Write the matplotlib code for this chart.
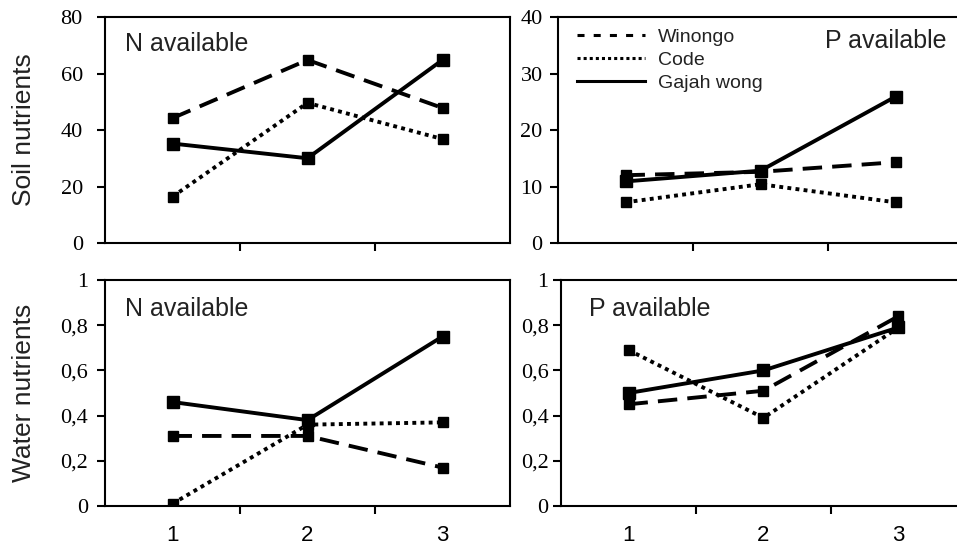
import matplotlib.pyplot as plt
from matplotlib.ticker import FuncFormatter

sites = ['Winongo', 'Code', 'Gajah wong']
x = [1, 2, 3]

soil_n = {'Winongo': [44.2, 64.8, 47.8], 'Code': [16.4, 49.6, 36.8], 'Gajah wong': [35.2, 30.0, 64.8]}
soil_p = {'Winongo': [12.0, 12.6, 14.3], 'Code': [7.2, 10.4, 7.2], 'Gajah wong': [10.9, 12.8, 25.9]}
water_n = {'Winongo': [0.31, 0.31, 0.17], 'Code': [0.01, 0.36, 0.37], 'Gajah wong': [0.46, 0.38, 0.75]}
water_p = {'Winongo': [0.45, 0.51, 0.84], 'Code': [0.69, 0.39, 0.79], 'Gajah wong': [0.50, 0.60, 0.79]}

styles = {
    'Winongo': dict(dashes=(5, 2.6), ms=7.5),
    'Code': dict(dashes=(1, 1.1), ms=7.5),
    'Gajah wong': dict(dashes=None, ms=9),
}

serif = 'Liberation Serif'
sans = 'Liberation Sans'
txt = '#222222'

fig = plt.figure(figsize=(9.57, 5.49), dpi=100)
W, H = 957, 549

def make_ax(left, top):
    return fig.add_axes([left / W, 1 - (top + 226) / H, 405 / W, 226 / H])

ax_sn = make_ax(105, 17)
ax_sp = make_ax(558, 17)
ax_wn = make_ax(105, 280)
ax_wp = make_ax(561, 280)

# axis, data, ymax, step, title, (title x, title y, ha), bottom row, ylabel, tick pad
panels = [
    (ax_sn, soil_n, 80, 20, 'N available', (0.05, 0.935, 'left'), False, 'Soil nutrients', 10),
    (ax_sp, soil_p, 40, 10, 'P available', (0.96, 0.945, 'right'), False, None, 5),
    (ax_wn, water_n, 1, 0.2, 'N available', (0.05, 0.925, 'left'), True, 'Water nutrients', 6),
    (ax_wp, water_p, 1, 0.2, 'P available', (0.07, 0.925, 'left'), True, None, 3),
]

for ax, data, ymax, step, title, tpos, bottom, ylab, ypad in panels:
    for s in sites:
        st = styles[s]
        kw = dict(color='black', lw=2.8, marker='s', ms=st['ms'],
                  mfc='black', mec='black', label=s)
        if st['dashes']:
            ax.plot(x, data[s], dashes=st['dashes'], **kw)
        else:
            ax.plot(x, data[s], linestyle='-', **kw)
    ax.set_xlim(0.5, 3.5)
    ax.set_ylim(0, ymax)
    n = int(round(ymax / step))
    ax.set_yticks([i * step for i in range(n + 1)])
    if ymax == 1:
        ax.yaxis.set_major_formatter(FuncFormatter(
            lambda v, p: '0' if v == 0 else ('1' if v == 1 else ('%.1f' % v).replace('.', ','))))
    for sp in ax.spines.values():
        sp.set_linewidth(1.5)
    ax.set_xticks([1.5, 2.5])
    ax.set_xticklabels([])
    ax.tick_params(axis='x', which='major', direction='out', length=6, width=1.5)
    ax.tick_params(axis='y', direction='out', length=6, width=1.5, pad=ypad)
    for lbl in ax.get_yticklabels():
        lbl.set_fontfamily(serif)
        lbl.set_fontsize(16)
    if bottom:
        ax.set_xticks(x, minor=True)
        ax.set_xticklabels(['1', '2', '3'], minor=True, fontfamily=sans, fontsize=16)
        ax.tick_params(axis='x', which='minor', length=0, pad=14)
    if ylab:
        ax.set_ylabel(ylab, fontfamily=sans, fontsize=19, color=txt)
        ax.yaxis.set_label_coords(-69 / 405, 0.5)
    ax.text(tpos[0], tpos[1], title, transform=ax.transAxes, ha=tpos[2], va='top',
            fontfamily=sans, fontsize=18, color=txt)

handles = [plt.Line2D([], [], color='black', lw=2.2, dashes=(2.3, 3)),
           plt.Line2D([], [], color='black', lw=2.2, dashes=(1, 1)),
           plt.Line2D([], [], color='black', lw=2.2, linestyle='-')]
leg = ax_sp.legend(handles, sites, loc='upper left', bbox_to_anchor=(19 / 405, 0.95),
                   frameon=False, prop={'family': sans, 'size': 14},
                   handlelength=3.5, handletextpad=0.65, labelspacing=0.28, borderpad=0,
                   borderaxespad=0)
for t in leg.get_texts():
    t.set_color(txt)

fig.savefig('out.png', dpi=100)
